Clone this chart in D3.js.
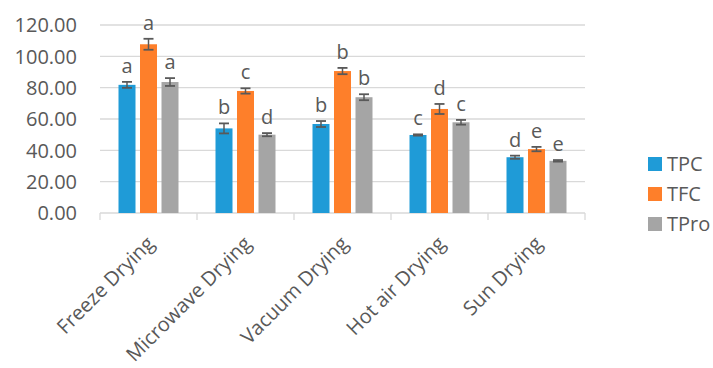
<!DOCTYPE html>
<html><head><meta charset="utf-8">
<script src="https://cdn.jsdelivr.net/npm/d3@7"></script>
<style>body{margin:0;background:#fff}</style>
</head><body><svg id="c" width="713" height="368"></svg>
<script>
const categories = ["Freeze Drying","Microwave Drying","Vacuum Drying","Hot air Drying","Sun Drying"];
const seriesNames = ["TPC","TFC","TPro"];
const colors = ["#1f9bd7","#fe7f2a","#a5a5a5"];
const TPC = [81.8, 54.0, 56.8, 49.8, 35.6];
const TFC = [107.7, 77.9, 90.6, 66.4, 40.8];
const TPro = [83.6, 50.0, 73.9, 57.9, 33.3];
const TPC_err = [1.9, 3.2, 1.9, 0.4, 1.0];
const TFC_err = [3.5, 1.7, 2.0, 3.2, 1.4];
const TPro_err = [2.5, 1.0, 1.9, 1.5, 0.5];
const TPC_lab = ["a","b","b","c","d"];
const TFC_lab = ["a","c","b","d","e"];
const TPro_lab = ["a","d","b","c","e"];
const yTicks = [0,20,40,60,80,100,120];

const values = [TPC, TFC, TPro];
const errs = [TPC_err, TFC_err, TPro_err];
const labs = [TPC_lab, TFC_lab, TPro_lab];

const svg = d3.select("#c");
const font = "'Open Sans', sans-serif";
const x0 = d3.scaleBand().domain(categories).range([100,585]).paddingInner(0).paddingOuter(0);
const y = d3.scaleLinear().domain([0,120]).range([213,25]);
const barW = 17, step = 21.5;

// gridlines
svg.append("g").selectAll("line").data(yTicks.filter(d=>d>0)).join("line")
  .attr("x1",100).attr("x2",585).attr("y1",d=>y(d)).attr("y2",d=>y(d))
  .attr("stroke","#d9d9d9").attr("stroke-width",1.3);

// y labels
svg.append("g").selectAll("text").data(yTicks).join("text")
  .attr("x",77).attr("y",d=>y(d)).attr("dy","0.36em").attr("text-anchor","end")
  .attr("font-family",font).attr("font-size",20).attr("fill","#595959")
  .text(d=>d.toFixed(2));

// axis
svg.append("line").attr("x1",100).attr("x2",585).attr("y1",213).attr("y2",213).attr("stroke","#d9d9d9").attr("stroke-width",1.3);
const bounds = categories.map(c=>x0(c)).concat([585]);
svg.append("g").selectAll("line").data(bounds).join("line")
  .attr("x1",d=>d).attr("x2",d=>d).attr("y1",213).attr("y2",220).attr("stroke","#d9d9d9").attr("stroke-width",1.3);

// bars
values.forEach((vals,s)=>{
  const g = svg.append("g");
  categories.forEach((c,i)=>{
    const cx = x0(c) + x0.bandwidth()/2 + (s-1)*step;
    const v = vals[i], e = errs[s][i];
    g.append("rect").attr("x",cx-barW/2).attr("width",barW).attr("y",y(v)).attr("height",y(0)-y(v)).attr("fill",colors[s]);
    const ey1 = y(v+e), ey2 = y(v-e);
    g.append("line").attr("x1",cx).attr("x2",cx).attr("y1",ey1).attr("y2",ey2).attr("stroke","#595959").attr("stroke-width",1.5);
    [ey1,ey2].forEach(yy=>g.append("line").attr("x1",cx-5).attr("x2",cx+5).attr("y1",yy).attr("y2",yy).attr("stroke","#595959").attr("stroke-width",1.8));
    g.append("text").attr("x",cx).attr("y",ey1-9).attr("text-anchor","middle")
      .attr("font-family",font).attr("font-size",20).attr("fill","#595959").text(labs[s][i]);
  });
});

// x labels
svg.append("g").selectAll("text").data(categories).join("text")
  .attr("transform",d=>`translate(${x0(d)+x0.bandwidth()/2-3},235) rotate(-45)`)
  .attr("text-anchor","end").attr("dy","0.7em")
  .attr("font-family",font).attr("font-size",20).attr("fill","#595959").text(d=>d);

// legend
const lg = svg.append("g");
seriesNames.forEach((n,i)=>{
  const yy = 157 + i*30;
  lg.append("rect").attr("x",648).attr("y",yy).attr("width",14).attr("height",14).attr("fill",colors[i]);
  lg.append("text").attr("x",667).attr("y",yy+7).attr("dy","0.36em").attr("font-family",font).attr("font-size",20).attr("fill","#595959").text(n);
});
</script></body></html>
